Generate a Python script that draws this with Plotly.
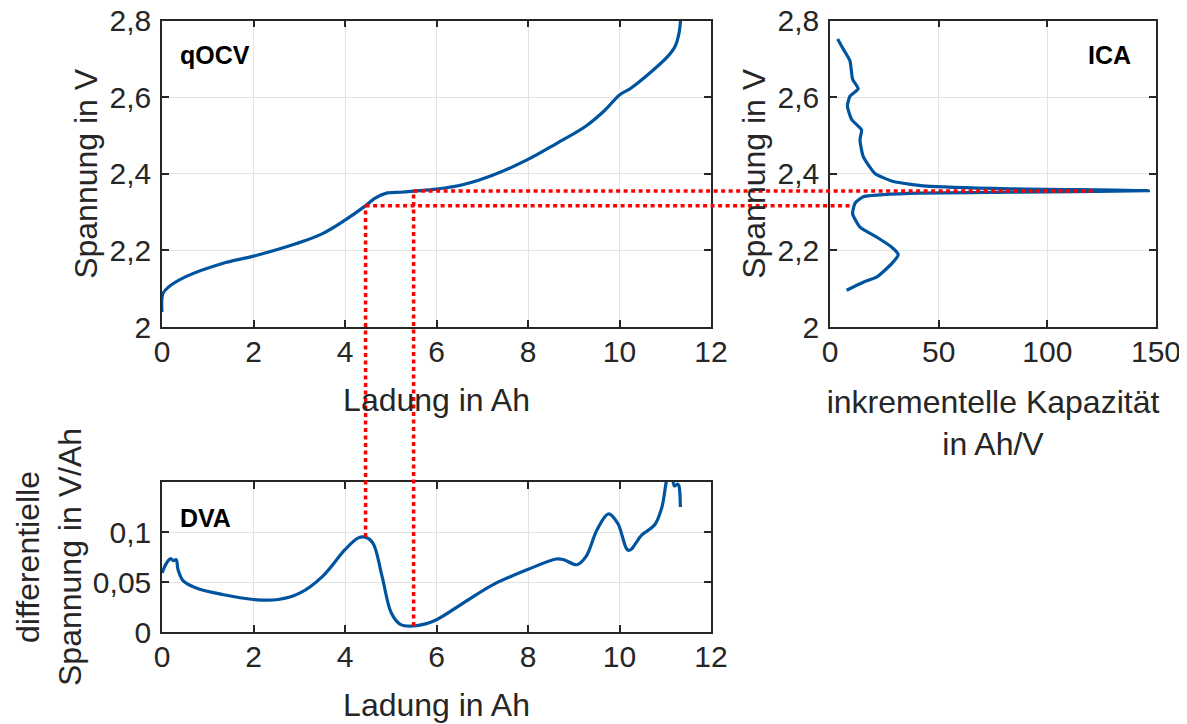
import plotly.graph_objects as go

# ---------------- data ----------------
# qOCV: charge (Ah) vs voltage (V)
qocv_q = [0.0, 0.02, 0.15, 0.51, 1.32, 2.0, 2.94, 3.51, 4.0, 4.43, 4.65, 4.89, 5.21, 5.5, 6.0,
          6.59, 7.24, 7.99, 8.62, 9.27, 9.68, 10.0, 10.24, 10.65, 11.05, 11.21, 11.3, 11.34, 11.36]
qocv_u = [2.039, 2.087, 2.105, 2.131, 2.166, 2.185, 2.218, 2.244, 2.279, 2.315, 2.336, 2.349, 2.352, 2.355, 2.360,
          2.372, 2.397, 2.437, 2.479, 2.525, 2.566, 2.606, 2.623, 2.662, 2.706, 2.732, 2.767, 2.81, 2.85]

# ICA: incremental capacity (Ah/V) vs voltage (V)
ica_dqdu = [3.5, 6.1, 9.2, 10.4, 13.0, 9.2, 8.0, 9.95, 14.5, 13.8, 15.3, 20.7, 29.1, 44.4, 82.7, 146.5,
            82.7, 36.7, 15.3, 11.5, 10.4, 13.8, 21.4, 28.3, 31.4, 28.3, 21.4, 15.3, 7.65]
ica_u = [2.752, 2.726, 2.695, 2.647, 2.622, 2.603, 2.577, 2.542, 2.515, 2.489, 2.445, 2.401, 2.380, 2.368, 2.361, 2.356,
         2.352, 2.349, 2.340, 2.323, 2.296, 2.261, 2.235, 2.209, 2.189, 2.165, 2.130, 2.117, 2.096]

# DVA: charge (Ah) vs differential voltage (V/Ah)
dva_q = [0.0, 0.1, 0.19, 0.25, 0.31, 0.35, 0.47, 0.75, 1.32, 2.0, 2.54, 3.02, 3.51, 4.0, 4.28, 4.44, 4.61,
         4.81, 5.01, 5.21, 5.5, 5.94, 6.59, 7.24, 7.99, 8.62, 8.78, 9.07, 9.27, 9.51, 9.76, 9.96, 10.2,
         10.49, 10.77, 10.93, 11.05, 11.13, 11.2, 11.27, 11.3, 11.33]
dva_du = [0.059, 0.069, 0.0733, 0.0713, 0.0723, 0.0624, 0.0508, 0.0441, 0.0375, 0.0325, 0.0325, 0.0391, 0.0557,
          0.0823, 0.0939, 0.0949, 0.0889, 0.0557, 0.0192, 0.0076, 0.006, 0.011, 0.0292, 0.0474, 0.0624, 0.073,
          0.0723, 0.0673, 0.0756, 0.1022, 0.1181, 0.1088, 0.0816, 0.0972, 0.1072, 0.1254, 0.155, 0.16, 0.146,
          0.148, 0.146, 0.125]

# marker points linking the three analyses
link_q = [4.45, 5.5]          # Ah
link_u = [2.317, 2.355]       # V
link_dva = [0.095, 0.006]     # V/Ah
link_ica = [10.6, 122.0]      # Ah/V (end of horizontal guide)

x_ticks_q = [0, 2, 4, 6, 8, 10, 12]
y_ticks_u = [2.0, 2.2, 2.4, 2.6, 2.8]
y_ticks_u_text = ["2", "2,2", "2,4", "2,6", "2,8"]
x_ticks_ica = [0, 50, 100, 150]
y_ticks_dva = [0, 0.05, 0.1]
y_ticks_dva_text = ["0", "0,05", "0,1"]

# ---------------- layout geometry ----------------
OFF = 8  # page body margin of the written html
W, H = 1187 - OFF, 724 - OFF


def px_x(p):
    return (p - OFF) / W


def px_y(p):
    return 1 - (p - OFF) / H


dom_x_left = [px_x(162), px_x(711)]
dom_x_ica = [px_x(830), px_x(1156)]
dom_y_top = [px_y(327), px_y(20.7)]
dom_y_dva = [px_y(632), px_y(482)]
rng_q = [0, 12]
rng_u = [2.0, 2.8]
rng_ica = [0, 150]
rng_dva = [0, 0.15]

BLUE = "#00549F"
TXT = "#262626"
GRID = "#e3e3e3"
FONT = "Arial, Liberation Sans, sans-serif"
FS_TICK = 30
FS_TITLE = 32


def to_paper(v, dom, rng):
    return dom[0] + (v - rng[0]) / (rng[1] - rng[0]) * (dom[1] - dom[0])


fig = go.Figure()
line = dict(color=BLUE, width=3.2, shape="spline", smoothing=1.0)
fig.add_trace(go.Scatter(x=qocv_q, y=qocv_u, mode="lines", line=line, xaxis="x", yaxis="y"))
fig.add_trace(go.Scatter(x=ica_dqdu, y=ica_u, mode="lines",
                         line=dict(color=BLUE, width=3.2, shape="spline", smoothing=0.5),
                         xaxis="x2", yaxis="y2"))
fig.add_trace(go.Scatter(x=dva_q, y=dva_du, mode="lines", line=line, xaxis="x3", yaxis="y3"))

axis_common = dict(
    showline=True, linecolor=TXT, linewidth=1.5, mirror="ticks",
    ticks="inside", ticklen=7, tickwidth=1.5, tickcolor=TXT,
    showgrid=True, gridcolor=GRID, gridwidth=1, zeroline=False,
    tickfont=dict(family=FONT, size=FS_TICK, color=TXT),
    title_font=dict(family=FONT, size=FS_TITLE, color=TXT),
    fixedrange=True, automargin=False, ticklabeloverflow="allow",
)
xstand = -3
ystand = 3

fig.update_layout(
    width=W, height=H,
    margin=dict(l=0, r=0, t=0, b=0, autoexpand=False),
    paper_bgcolor="white", plot_bgcolor="white",
    showlegend=False,
    separators=",.",
    xaxis=dict(axis_common, domain=dom_x_left, range=rng_q, anchor="y", tickvals=x_ticks_q,
               title=dict(text="Ladung in Ah", standoff=22), ticklabelstandoff=xstand),
    yaxis=dict(axis_common, domain=dom_y_top, range=rng_u, anchor="x", tickvals=y_ticks_u,
               ticktext=y_ticks_u_text, title=dict(text="Spannung in V", standoff=2), ticklabelstandoff=ystand),
    xaxis2=dict(axis_common, domain=dom_x_ica, range=rng_ica, anchor="y2", tickvals=x_ticks_ica,
                title=dict(text="inkrementelle Kapazität<br>in Ah/V", standoff=24), ticklabelstandoff=xstand),
    yaxis2=dict(axis_common, domain=dom_y_top, range=rng_u, anchor="x2", tickvals=y_ticks_u,
                ticktext=y_ticks_u_text, title=dict(text="Spannung in V", standoff=2), ticklabelstandoff=ystand),
    xaxis3=dict(axis_common, domain=dom_x_left, range=rng_q, anchor="y3", tickvals=x_ticks_q,
                title=dict(text="Ladung in Ah", standoff=22), ticklabelstandoff=xstand),
    yaxis3=dict(axis_common, domain=dom_y_dva, range=rng_dva, anchor="x3", tickvals=y_ticks_dva,
                ticktext=y_ticks_dva_text, title=dict(text="differentielle<br>Spannung in V/Ah", standoff=2),
                ticklabelstandoff=ystand),
)

# panel labels
lab_font = dict(family=FONT, size=25, color="black")
fig.add_annotation(text="<b>qOCV</b>", xref="x domain", yref="y domain", x=0.03, y=0.888,
                   xanchor="left", yanchor="middle", showarrow=False, font=lab_font)
fig.add_annotation(text="<b>ICA</b>", xref="x2 domain", yref="y2 domain", x=0.93, y=0.888,
                   xanchor="right", yanchor="middle", showarrow=False, font=lab_font)
fig.add_annotation(text="<b>DVA</b>", xref="x3 domain", yref="y3 domain", x=0.03, y=0.76,
                   xanchor="left", yanchor="middle", showarrow=False, font=lab_font)

# red dotted guide lines
red = dict(color="#ff0000", width=3.5, dash="4px,3.5px")
for q, u, d, c in zip(link_q, link_u, link_dva, link_ica):
    # vertical: from DVA value up to the qOCV point
    fig.add_shape(type="line", xref="x", yref="paper", x0=q, x1=q,
                  y0=to_paper(d, dom_y_dva, rng_dva), y1=to_paper(u, dom_y_top, rng_u), line=red)
    # horizontal: from qOCV point across to the ICA panel
    fig.add_shape(type="line", xref="paper", yref="y", y0=u, y1=u,
                  x0=to_paper(q, dom_x_left, rng_q), x1=to_paper(c, dom_x_ica, rng_ica), line=red)

fig.write_html("out.html")
